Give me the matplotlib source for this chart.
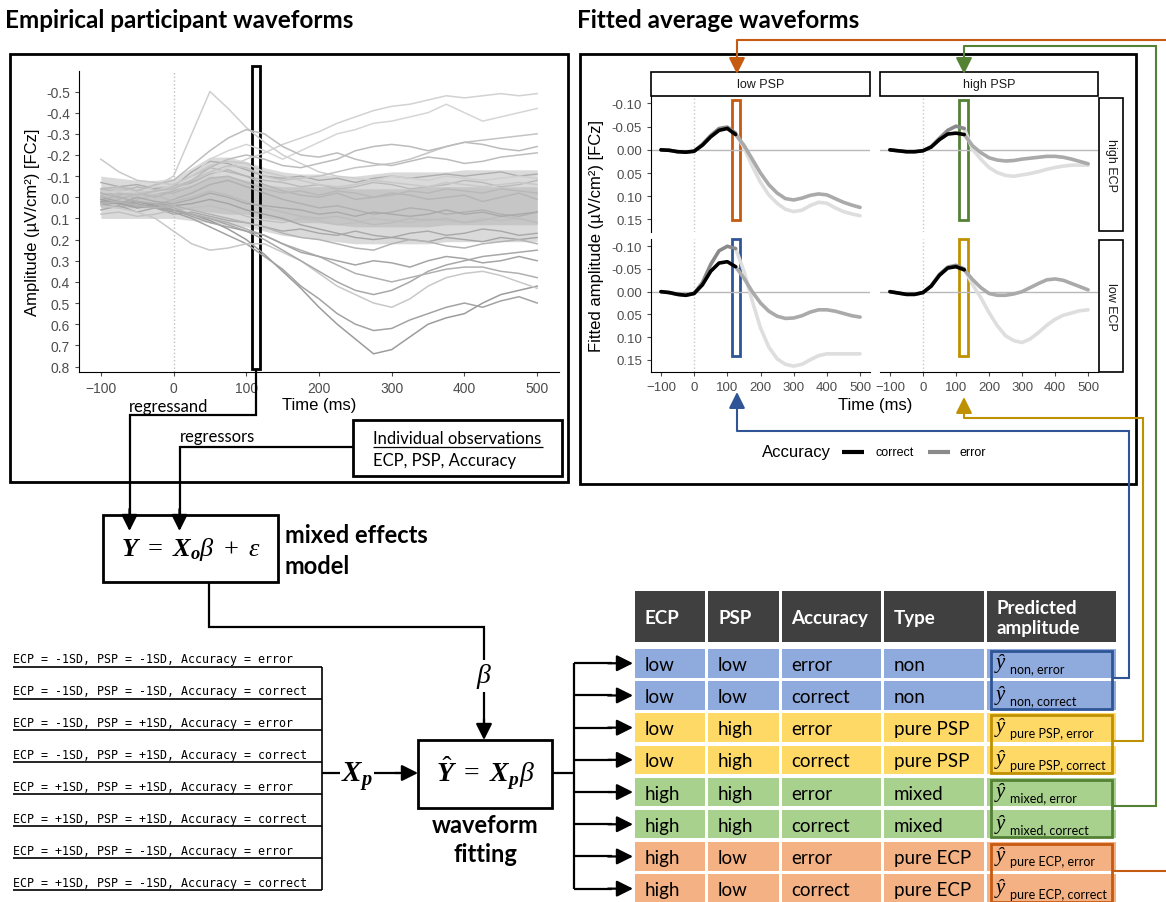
"""
Schematic of the waveform-fitting pipeline: empirical ERP traces, mixed model,
fitted average waveforms per condition and the prediction table.
"""

import numpy as np
import matplotlib.pyplot as plt
from matplotlib.patches import Rectangle

# ---------------------------------------------------------------- data
emp_times = [-100, -75, -50, -25, 0, 25, 50, 75, 100, 125, 150, 175, 200,
             225, 250, 275, 300, 325, 350, 375, 400, 425, 450, 475, 500]

# envelope of the dense bundle of participant waveforms
band_outer_lo = [-0.10, -0.09, -0.08, -0.08, -0.09, -0.14, -0.19, -0.19, -0.17, -0.14, -0.12, -0.11, -0.11,
                 -0.10, -0.10, -0.11, -0.12, -0.12, -0.12, -0.12, -0.13, -0.13, -0.13, -0.13, -0.13]
band_outer_hi = [0.10, 0.10, 0.10, 0.10, 0.10, 0.11, 0.12, 0.13, 0.14, 0.16, 0.18, 0.19, 0.20,
                 0.21, 0.22, 0.22, 0.22, 0.22, 0.22, 0.21, 0.21, 0.21, 0.21, 0.21, 0.21]
band_core_lo = [-0.05, -0.05, -0.05, -0.05, -0.06, -0.08, -0.10, -0.10, -0.08, -0.06, -0.05, -0.05, -0.05,
                -0.05, -0.04, -0.04, -0.04, -0.04, -0.05, -0.05, -0.05, -0.05, -0.05, -0.05, -0.05]
band_core_hi = [0.05, 0.05, 0.05, 0.05, 0.05, 0.06, 0.07, 0.08, 0.08, 0.10, 0.11, 0.12, 0.12,
                0.13, 0.14, 0.14, 0.14, 0.14, 0.14, 0.13, 0.13, 0.13, 0.13, 0.13, 0.13]

# participant waveforms inside the bundle
bundle_traces = [
    [0.03, 0.05, 0.02, 0.04, 0.01, -0.02, -0.06, -0.08, -0.05, -0.02, 0.01, 0.03, 0.05,
     0.04, 0.06, 0.08, 0.07, 0.05, 0.06, 0.08, 0.07, 0.06, 0.08, 0.09, 0.07],
    [-0.04, -0.02, -0.05, -0.03, -0.06, -0.10, -0.14, -0.12, -0.10, -0.08, -0.07, -0.05, -0.06,
     -0.04, -0.05, -0.07, -0.06, -0.04, -0.05, -0.06, -0.08, -0.07, -0.05, -0.06, -0.08],
    [0.06, 0.04, 0.07, 0.05, 0.08, 0.07, 0.09, 0.11, 0.12, 0.14, 0.16, 0.15, 0.17,
     0.18, 0.16, 0.18, 0.19, 0.17, 0.16, 0.18, 0.17, 0.15, 0.16, 0.18, 0.17],
    [-0.01, 0.01, -0.02, 0.00, -0.03, -0.07, -0.11, -0.13, -0.10, -0.06, -0.03, -0.01, 0.00,
     -0.02, 0.01, 0.00, -0.02, -0.01, 0.01, 0.00, -0.01, 0.02, 0.00, -0.02, 0.01],
    [0.08, 0.07, 0.09, 0.08, 0.06, 0.05, 0.04, 0.06, 0.09, 0.11, 0.12, 0.10, 0.11,
     0.13, 0.12, 0.10, 0.11, 0.12, 0.10, 0.11, 0.12, 0.10, 0.11, 0.10, 0.12],
    [-0.07, -0.05, -0.06, -0.04, -0.05, -0.12, -0.17, -0.16, -0.13, -0.10, -0.09, -0.10, -0.08,
     -0.09, -0.07, -0.09, -0.10, -0.09, -0.10, -0.11, -0.10, -0.11, -0.12, -0.10, -0.11],
    [0.00, -0.03, 0.01, -0.01, 0.02, 0.00, -0.03, -0.01, 0.02, 0.05, 0.07, 0.09, 0.10,
     0.09, 0.11, 0.13, 0.12, 0.10, 0.11, 0.10, 0.12, 0.11, 0.09, 0.10, 0.12],
    [0.04, 0.02, 0.05, 0.03, 0.04, 0.03, 0.01, 0.03, 0.06, 0.08, 0.10, 0.13, 0.15,
     0.17, 0.19, 0.20, 0.19, 0.20, 0.21, 0.19, 0.20, 0.21, 0.19, 0.20, 0.19],
    [-0.03, -0.01, -0.04, -0.02, -0.02, -0.05, -0.09, -0.10, -0.07, -0.04, -0.02, -0.03, -0.01,
     -0.03, -0.02, 0.00, -0.01, -0.03, -0.02, -0.04, -0.03, -0.02, -0.04, -0.03, -0.02],
    [0.01, 0.03, 0.00, 0.02, 0.03, 0.01, -0.02, 0.00, 0.03, 0.04, 0.05, 0.06, 0.08,
     0.07, 0.09, 0.07, 0.08, 0.09, 0.08, 0.06, 0.08, 0.07, 0.09, 0.08, 0.07],
]
bundle_colors = ['#b0b0b0', '#bababa', '#a8a8a8', '#b5b5b5', '#c0c0c0',
                 '#adadad', '#bcbcbc', '#a4a4a4', '#b8b8b8', '#aaaaaa']

# individual participant waveforms that stand out from the bundle
outlier_traces = [
    [-0.03, -0.02, -0.03, -0.02, -0.04, -0.06, -0.10, -0.14, -0.18, -0.21, -0.25, -0.28, -0.31,
     -0.35, -0.38, -0.41, -0.43, -0.44, -0.46, -0.48, -0.47, -0.48, -0.49, -0.48, -0.49],
    [-0.02, -0.03, -0.02, -0.05, -0.10, -0.30, -0.50, -0.42, -0.33, -0.26, -0.20, -0.16, -0.12,
     -0.10, -0.09, -0.08, -0.10, -0.09, -0.08, -0.10, -0.09, -0.08, -0.09, -0.10, -0.09],
    [0.00, -0.02, -0.04, -0.03, -0.06, -0.10, -0.18, -0.22, -0.25, -0.22, -0.18, -0.22, -0.26,
     -0.30, -0.32, -0.35, -0.36, -0.38, -0.40, -0.44, -0.40, -0.36, -0.38, -0.40, -0.42],
    [0.02, 0.00, -0.02, -0.03, -0.05, -0.08, -0.12, -0.15, -0.14, -0.10, -0.08, -0.09, -0.10,
     -0.12, -0.14, -0.15, -0.16, -0.18, -0.21, -0.24, -0.26, -0.27, -0.28, -0.29, -0.30],
    [-0.04, -0.05, -0.03, -0.06, -0.08, -0.15, -0.22, -0.28, -0.32, -0.30, -0.24, -0.20, -0.19,
     -0.21, -0.18, -0.16, -0.15, -0.17, -0.19, -0.18, -0.16, -0.17, -0.19, -0.20, -0.21],
    [0.02, 0.03, 0.02, 0.04, 0.06, 0.08, 0.11, 0.15, 0.20, 0.27, 0.35, 0.43, 0.52,
     0.60, 0.67, 0.74, 0.72, 0.66, 0.60, 0.57, 0.55, 0.50, 0.46, 0.44, 0.42],
    [0.01, 0.03, 0.04, 0.05, 0.07, 0.10, 0.14, 0.18, 0.22, 0.28, 0.34, 0.42, 0.48,
     0.55, 0.60, 0.63, 0.62, 0.58, 0.55, 0.52, 0.50, 0.52, 0.49, 0.47, 0.50],
    [0.04, 0.05, 0.07, 0.10, 0.16, 0.22, 0.25, 0.24, 0.22, 0.22, 0.26, 0.30, 0.36,
     0.42, 0.46, 0.50, 0.52, 0.48, 0.42, 0.38, 0.36, 0.35, 0.37, 0.40, 0.43],
    [0.00, 0.02, 0.03, 0.05, 0.06, 0.08, 0.10, 0.13, 0.16, 0.20, 0.25, 0.30, 0.35,
     0.40, 0.44, 0.46, 0.44, 0.40, 0.35, 0.32, 0.30, 0.28, 0.27, 0.26, 0.25],
    [-0.02, 0.00, 0.02, 0.03, 0.05, 0.08, 0.10, 0.12, 0.15, 0.18, 0.22, 0.25, 0.28,
     0.32, 0.36, 0.38, 0.40, 0.38, 0.36, 0.34, 0.33, 0.33, 0.35, 0.36, 0.38],
    [-0.18, -0.12, -0.08, -0.07, -0.06, -0.10, -0.15, -0.17, -0.16, -0.12, -0.10, -0.08, -0.06,
     -0.05, -0.06, -0.08, -0.07, -0.06, -0.05, -0.07, -0.06, -0.05, -0.06, -0.07, -0.06],
    [0.00, -0.02, -0.01, -0.03, -0.04, -0.08, -0.14, -0.18, -0.20, -0.18, -0.15, -0.14, -0.16,
     -0.18, -0.22, -0.24, -0.25, -0.24, -0.22, -0.24, -0.26, -0.25, -0.23, -0.22, -0.24],
    [0.02, 0.03, 0.05, 0.04, 0.06, 0.09, 0.12, 0.14, 0.16, 0.18, 0.22, 0.26, 0.28,
     0.30, 0.32, 0.30, 0.31, 0.33, 0.30, 0.28, 0.29, 0.31, 0.30, 0.28, 0.30],
    [0.03, 0.02, 0.04, 0.05, 0.04, 0.06, 0.08, 0.10, 0.12, 0.14, 0.17, 0.19, 0.20,
     0.22, 0.24, 0.25, 0.22, 0.20, 0.21, 0.23, 0.24, 0.22, 0.21, 0.20, 0.22],
]
trace_colors = ['#d2d2d2', '#cfcfcf', '#d6d6d6', '#c4c4c4', '#bdbdbd', '#9c9c9c', '#a3a3a3',
                '#c8c8c8', '#a8a8a8', '#b0b0b0', '#c9c9c9', '#bcbcbc', '#a5a5a5', '#b4b4b4']

# fitted waveforms (same time grid), per PSP x ECP cell
fit_times = emp_times
fit_low_psp_high_ecp_correct = [0.000, 0.001, 0.004, 0.005, 0.003, -0.010, -0.028, -0.042, -0.046, -0.033, -0.010, 0.020, 0.050,
                                0.075, 0.093, 0.105, 0.108, 0.104, 0.098, 0.095, 0.097, 0.105, 0.113, 0.119, 0.124]
fit_low_psp_high_ecp_error = [0.000, 0.001, 0.004, 0.005, 0.003, -0.012, -0.031, -0.046, -0.049, -0.036, -0.005, 0.035, 0.070,
                              0.097, 0.115, 0.128, 0.133, 0.130, 0.120, 0.113, 0.115, 0.125, 0.133, 0.138, 0.142]
fit_low_psp_low_ecp_correct = [0.000, 0.002, 0.006, 0.008, 0.004, -0.015, -0.045, -0.063, -0.066, -0.055, -0.030, 0.000, 0.025,
                               0.043, 0.054, 0.059, 0.058, 0.053, 0.045, 0.040, 0.040, 0.043, 0.048, 0.053, 0.056]
fit_low_psp_low_ecp_error = [0.000, 0.002, 0.006, 0.008, 0.004, -0.020, -0.060, -0.090, -0.100, -0.095, -0.045, 0.020, 0.080,
                             0.122, 0.148, 0.160, 0.164, 0.160, 0.150, 0.141, 0.137, 0.137, 0.137, 0.137, 0.137]
fit_high_psp_high_ecp_correct = [0.000, 0.002, 0.004, 0.004, 0.002, -0.006, -0.022, -0.034, -0.036, -0.033, -0.009, 0.006, 0.017,
                                 0.022, 0.024, 0.023, 0.020, 0.018, 0.016, 0.014, 0.014, 0.016, 0.020, 0.025, 0.030]
fit_high_psp_high_ecp_error = [0.000, 0.002, 0.004, 0.004, 0.002, -0.007, -0.025, -0.042, -0.051, -0.046, -0.001, 0.020, 0.038,
                               0.049, 0.055, 0.057, 0.054, 0.051, 0.047, 0.042, 0.038, 0.035, 0.033, 0.033, 0.033]
fit_high_psp_low_ecp_correct = [0.000, 0.003, 0.006, 0.006, 0.002, -0.012, -0.036, -0.052, -0.055, -0.048, -0.027, -0.009, 0.004,
                                0.008, 0.008, 0.005, 0.000, -0.009, -0.018, -0.026, -0.028, -0.025, -0.018, -0.011, -0.004]
fit_high_psp_low_ecp_error = [0.000, 0.003, 0.006, 0.006, 0.002, -0.013, -0.038, -0.054, -0.058, -0.050, -0.016, 0.013, 0.046,
                              0.075, 0.097, 0.108, 0.112, 0.104, 0.090, 0.074, 0.061, 0.052, 0.047, 0.042, 0.040]
fit_window_end = 125  # ms, fitted curves are drawn opaque up to here

# prediction design (left list) and table
design_rows = [
    "ECP = -1SD, PSP = -1SD, Accuracy = error",
    "ECP = -1SD, PSP = -1SD, Accuracy = correct",
    "ECP = -1SD, PSP = +1SD, Accuracy = error",
    "ECP = -1SD, PSP = +1SD, Accuracy = correct",
    "ECP = +1SD, PSP = +1SD, Accuracy = error",
    "ECP = +1SD, PSP = +1SD, Accuracy = correct",
    "ECP = +1SD, PSP = -1SD, Accuracy = error",
    "ECP = +1SD, PSP = -1SD, Accuracy = correct",
]
table_header = ["ECP", "PSP", "Accuracy", "Type", "Predicted\namplitude"]
ecp_levels = ["low", "low", "low", "low", "high", "high", "high", "high"]
psp_levels = ["low", "low", "high", "high", "high", "high", "low", "low"]
accuracy_levels = ["error", "correct", "error", "correct", "error", "correct", "error", "correct"]
type_levels = ["non", "non", "pure PSP", "pure PSP", "mixed", "mixed", "pure ECP", "pure ECP"]
pred_subscripts = ["non, error", "non, correct", "pure PSP, error", "pure PSP, correct",
                   "mixed, error", "mixed, correct", "pure ECP, error", "pure ECP, correct"]

# ---------------------------------------------------------------- style
W, H = 1166, 903
CHART = "Liberation Sans"
DIAG = "Lato"
MONO = "DejaVu Sans Mono"
TICK_COL = "#4d4d4d"
ROW_COLORS = {"non": "#8faadc", "pure PSP": "#ffd966", "mixed": "#a9d18e", "pure ECP": "#f4b183"}
EDGE_COLORS = {"non": "#2f5597", "pure PSP": "#bf9000", "mixed": "#548235", "pure ECP": "#c55a11"}

plt.rcParams["mathtext.fontset"] = "custom"
plt.rcParams["mathtext.rm"] = "Liberation Serif"
plt.rcParams["mathtext.it"] = "Liberation Serif:italic"
plt.rcParams["mathtext.bf"] = "Liberation Serif:italic:bold"

fig = plt.figure(figsize=(W / 100, H / 100), dpi=100)


def frect(x0, y0, x1, y1):
    """pixel box (top-left origin) -> figure fraction rect"""
    return [x0 / W, 1 - y1 / H, (x1 - x0) / W, (y1 - y0) / H]


# ---------------------------------------------------------------- empirical waveforms
ax = fig.add_axes(frect(79, 72, 559, 373))
t = np.array(emp_times)
ax.fill_between(t, band_outer_lo, band_outer_hi, color="#dadada", lw=0)
ax.fill_between(t, band_core_lo, band_core_hi, color="#c6c6c6", lw=0)
for tr, c in zip(bundle_traces, bundle_colors):
    ax.plot(t, tr, color=c, lw=1)
for tr, c in zip(outlier_traces, trace_colors):
    ax.plot(t, tr, color=c, lw=1.1)
ax.axvline(0, color="#c0c0c0", ls=":", lw=1)
ax.set_xlim(-130, 530)
ax.set_ylim(0.826, -0.597)
ax.set_xticks([-100, 0, 100, 200, 300, 400, 500])
yt = [-0.5, -0.4, -0.3, -0.2, -0.1, 0.0, 0.1, 0.2, 0.3, 0.4, 0.5, 0.6, 0.7, 0.8]
ax.set_yticks(yt)
ax.set_yticklabels([f"{v:.1f}" for v in yt])
for s in ["top", "right"]:
    ax.spines[s].set_visible(False)
ax.tick_params(labelsize=10, colors=TICK_COL, length=3, labelcolor=TICK_COL)
for lab in ax.get_xticklabels() + ax.get_yticklabels():
    lab.set_family(CHART)
ax.set_facecolor("none")
ax.add_patch(Rectangle((107.5, -0.62), 11.5, 1.43, fill=False, ec="black", lw=2, clip_on=False))

# ---------------------------------------------------------------- fitted waveforms
panels = [
    ("low PSP", "high ECP", (651, 97, 870, 233), fit_low_psp_high_ecp_correct, fit_low_psp_high_ecp_error,
     "pure ECP", (115, 138), (-0.107, 0.151)),
    ("high PSP", "high ECP", (880, 97, 1098, 233), fit_high_psp_high_ecp_correct, fit_high_psp_high_ecp_error,
     "mixed", (109, 136), (-0.107, 0.151)),
    ("low PSP", "low ECP", (651, 240, 870, 373), fit_low_psp_low_ecp_correct, fit_low_psp_low_ecp_error,
     "non", (115, 138), (-0.117, 0.142)),
    ("high PSP", "low ECP", (880, 240, 1098, 373), fit_high_psp_low_ecp_correct, fit_high_psp_low_ecp_error,
     "pure PSP", (109, 136), (-0.117, 0.142)),
]
ft = np.array(fit_times)
pre = ft <= fit_window_end
post = ft >= fit_window_end
for psp, ecp, box_px, corr, err, ctype, (rx0, rx1), (ry0, ry1) in panels:
    pa = fig.add_axes(frect(*box_px))
    corr, err = np.array(corr), np.array(err)
    pa.axhline(0, color="#b8b8b8", lw=1)
    pa.axvline(0, color="#c8c8c8", ls=":", lw=1)
    pa.plot(ft[post], err[post], color="#dedede", lw=2.6, solid_capstyle="round")
    pa.plot(ft[post], corr[post], color="#aaaaaa", lw=2.6, solid_capstyle="round")
    pa.plot(ft[pre], err[pre], color="#8a8a8a", lw=2.6, solid_capstyle="round")
    pa.plot(ft[pre], corr[pre], color="black", lw=2.6, solid_capstyle="round")
    pa.set_xlim(-130, 530)
    pa.set_ylim(0.177, -0.116)
    pa.set_xticks([-100, 0, 100, 200, 300, 400, 500])
    pa.set_yticks([-0.10, -0.05, 0.00, 0.05, 0.10, 0.15])
    pa.set_yticklabels(["-0.10", "-0.05", "0.00", "0.05", "0.10", "0.15"])
    pa.tick_params(labelsize=9.5, colors=TICK_COL, length=3, labelcolor=TICK_COL)
    for lab in pa.get_xticklabels() + pa.get_yticklabels():
        lab.set_family(CHART)
    for s in ["top", "right"]:
        pa.spines[s].set_visible(False)
    if psp == "high PSP":
        pa.spines["left"].set_visible(False)
        pa.tick_params(axis="y", left=False, labelleft=False)
    if ecp == "high ECP":
        pa.spines["bottom"].set_visible(False)
        pa.tick_params(axis="x", bottom=False, labelbottom=False)
    pa.set_facecolor("none")
    pa.add_patch(Rectangle((rx0, ry0), rx1 - rx0, ry1 - ry0, fill=False,
                           ec=EDGE_COLORS[ctype], lw=2, clip_on=False))

# ---------------------------------------------------------------- overlay (diagram)
ov = fig.add_axes([0, 0, 1, 1], zorder=10)
ov.set_xlim(0, W)
ov.set_ylim(H, 0)
ov.axis("off")
ov.patch.set_alpha(0)


def box(x0, y0, x1, y1, lw=2, ec="black", fc="none", z=2):
    ov.add_patch(Rectangle((x0, y0), x1 - x0, y1 - y0, fill=fc != "none", fc=fc, ec=ec, lw=lw, zorder=z))


def line(xs, ys, color="black", lw=1.6):
    ov.plot(xs, ys, color=color, lw=lw, solid_joinstyle="miter", solid_capstyle="butt", zorder=3)


def arrow(x0, y0, x1, y1, color="black", lw=1.6):
    ov.annotate("", xy=(x1, y1), xytext=(x0, y0),
                arrowprops=dict(arrowstyle="-|>,head_length=0.7,head_width=0.35", color=color, lw=lw,
                                shrinkA=0, shrinkB=0, mutation_scale=14), zorder=4)


# titles and outer frames
ov.text(5, 21, "Empirical participant waveforms", fontsize=17.5, fontweight="bold", family=DIAG, va="center")
ov.text(577, 21, "Fitted average waveforms", fontsize=17.5, fontweight="bold", family=DIAG, va="center")
box(10, 55, 568, 483)
box(580, 55, 1136, 485)

# axis labels of the charts
ov.text(33, 222, "Amplitude (\u00b5V/cm\u00b2) [FCz]", rotation=90, fontsize=12, family=CHART, ha="center", va="center")
ov.text(319, 406, "Time (ms)", fontsize=12, family=CHART, ha="center", va="center")
ov.text(597, 236, "Fitted amplitude (\u00b5V/cm\u00b2) [FCz]", rotation=90, fontsize=12, family=CHART,
        ha="center", va="center")
ov.text(875, 406, "Time (ms)", fontsize=12, family=CHART, ha="center", va="center")

# facet strips
for label, (x0, x1) in [("low PSP", (651, 870)), ("high PSP", (880, 1098))]:
    box(x0, 73, x1, 97, lw=1.2)
    ov.text((x0 + x1) / 2, 85, label, fontsize=9, family=CHART, color="#1a1a1a", ha="center", va="center")
for label, (y0, y1) in [("high ECP", (99, 232)), ("low ECP", (241, 373))]:
    box(1099, y0, 1123, y1, lw=1.2)
    ov.text(1111, (y0 + y1) / 2, label, fontsize=9, family=CHART, color="#1a1a1a", rotation=-90,
            ha="center", va="center")

# legend
ov.text(762, 453, "Accuracy", fontsize=12, family=CHART, va="center")
line([842, 864], [453, 453], color="black", lw=3)
ov.text(875, 453, "correct", fontsize=9, family=CHART, va="center")
line([928, 950], [453, 453], color="#8a8a8a", lw=3)
ov.text(959, 453, "error", fontsize=9, family=CHART, va="center")

# individual observations box and regression inputs
box(353, 421, 562, 477)
ov.text(373, 439, "Individual observations", fontsize=12, family=DIAG, va="center")
line([373, 543], [448, 448], lw=0.9)
ov.text(373, 461, "ECP, PSP, Accuracy", fontsize=12, family=DIAG, va="center")

ov.text(129, 407, "regressand", fontsize=12, family=DIAG, va="center")
ov.text(180, 437, "regressors", fontsize=12, family=DIAG, va="center")
line([256, 256, 129.5, 129.5], [370, 416, 416, 515])
arrow(129.5, 510, 129.5, 532)
line([353, 179.5, 179.5], [448, 448, 515])
arrow(179.5, 510, 179.5, 532)

# mixed effects model
box(103, 516, 278, 583)
ov.text(191, 550, r"$\mathbf{Y}\ =\ \mathbf{X}_{\mathbf{o}}\beta\ +\ \varepsilon$", fontsize=19,
        ha="center", va="center")
ov.text(285, 536, "mixed effects", fontsize=17, fontweight="bold", family=DIAG, va="center")
ov.text(285, 567, "model", fontsize=17, fontweight="bold", family=DIAG, va="center")

# beta path into the waveform fitting box
line([209, 209, 484, 484], [583, 628, 628, 725])
arrow(484, 720, 484, 741)
ov.text(484, 677, r"$\beta$", fontsize=20, ha="center", va="center",
        bbox=dict(fc="white", ec="none", pad=1), zorder=5)

# design list
list_pitch = 31.86
for i, row in enumerate(design_rows):
    ov.text(13, 660 + i * list_pitch, row, fontsize=8.4, family=MONO, va="center")
    line([13, 322], [667.7 + i * list_pitch] * 2, lw=1.2)
line([322, 322], [667.7, 667.7 + 7 * list_pitch], lw=1.2)
line([322, 400], [774, 774])
arrow(395, 774, 418, 774)
ov.text(357, 777, r"$\mathbf{X}_{\mathbf{p}}$", fontsize=21, ha="center", va="center",
        bbox=dict(fc="white", ec="none", pad=1), zorder=5)

# waveform fitting
box(418, 741, 552, 809)
ov.text(485, 773, r"$\hat{\mathbf{Y}}\ =\ \mathbf{X}_{\mathbf{p}}\beta$", fontsize=20, ha="center", va="center")
ov.text(485, 826, "waveform", fontsize=17, fontweight="bold", family=DIAG, ha="center", va="center")
ov.text(485, 855, "fitting", fontsize=17, fontweight="bold", family=DIAG, ha="center", va="center")

# table
cols = [(635, 705), (708, 779), (781.5, 881), (883.7, 984), (986.6, 1115.5)]
hdr_y0, hdr_y1 = 592, 643
for (x0, x1), label in zip(cols, table_header):
    box(x0, hdr_y0, x1, hdr_y1, lw=0, fc="#404040")
    ov.text(x0 + 10, (hdr_y0 + hdr_y1) / 2 + 1, label, fontsize=13.5, fontweight="bold", family=DIAG,
            color="white", va="center", linespacing=1.15, zorder=5)

row_top0, row_pitch, row_h = 650, 32.2, 28.5
row_centers = []
for i in range(len(type_levels)):
    y0 = row_top0 + i * row_pitch
    yc = y0 + row_h / 2
    row_centers.append(yc)
    fc = ROW_COLORS[type_levels[i]]
    vals = [ecp_levels[i], psp_levels[i], accuracy_levels[i], type_levels[i]]
    for j, (x0, x1) in enumerate(cols):
        box(x0, y0, x1, y0 + row_h, lw=0, fc=fc)
        if j < 4:
            ov.text(x0 + 10, yc + 1, vals[j], fontsize=13.5, family=DIAG, va="center", zorder=5)
    ov.text(cols[4][0] + 9, yc - 1, "\u0177", fontsize=15, family="Liberation Serif", style="italic",
            va="center", zorder=5)
    ov.text(cols[4][0] + 23, yc + 5, pred_subscripts[i], fontsize=9, family=DIAG, va="center", zorder=5)

# coloured frames around predicted-amplitude pairs, and their links to the fitted panels
for k, ctype in enumerate(["non", "pure PSP", "mixed", "pure ECP"]):
    y0 = row_top0 + 2 * k * row_pitch + 2
    y1 = row_top0 + (2 * k + 1) * row_pitch + row_h - 1
    box(990.7, y0, 1112, y1, lw=2, ec=EDGE_COLORS[ctype], z=6)

c = EDGE_COLORS
line([1112, 1129, 1129, 737], [679, 679, 432, 432], color=c["non"], lw=1.5)
arrow(737, 432, 737, 393, color=c["non"], lw=1.5)
line([1112, 1143, 1143, 964], [742, 742, 419, 419], color=c["pure PSP"], lw=1.5)
arrow(964, 419, 964, 398, color=c["pure PSP"], lw=1.5)
line([1112, 1155.5, 1155.5, 964], [807, 807, 47, 47], color=c["mixed"], lw=1.5)
arrow(964, 47, 964, 75, color=c["mixed"], lw=1.5)
line([1112, 1166], [872, 872], color=c["pure ECP"], lw=1.5)
line([1166, 737], [41, 41], color=c["pure ECP"], lw=1.5)
arrow(737, 41, 737, 75, color=c["pure ECP"], lw=1.5)

# fan-out from waveform fitting to the table rows
line([552, 574], [774, 774])
line([574, 574], [row_centers[0], row_centers[-1]])
for yc in row_centers:
    line([574, 612], [yc, yc])
    arrow(608, yc, 633, yc)

fig.savefig("out.png", dpi=100)
